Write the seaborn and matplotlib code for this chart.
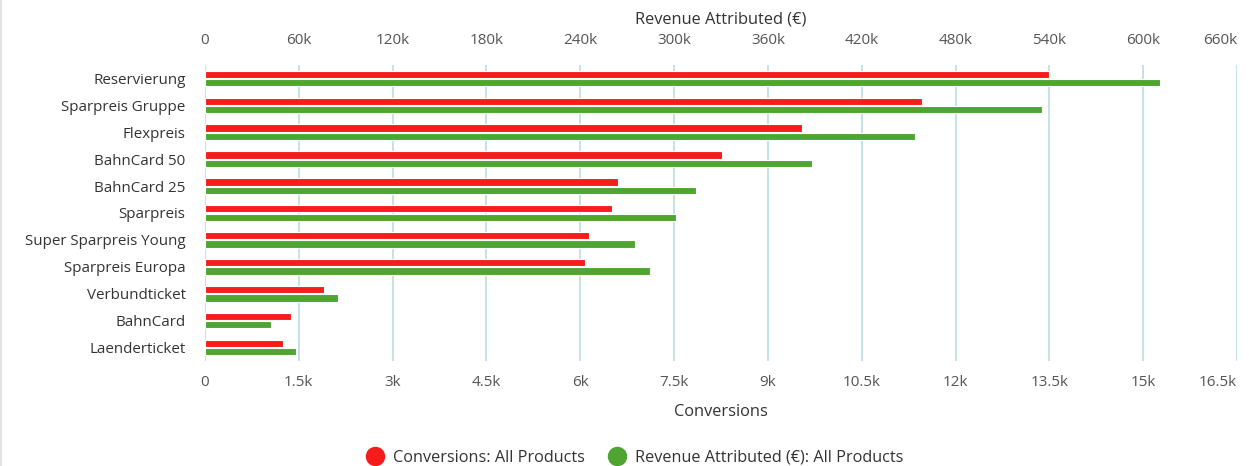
import matplotlib
matplotlib.use("Agg")
import matplotlib.pyplot as plt
import seaborn as sns
import pandas as pd
from matplotlib.lines import Line2D
from matplotlib.ticker import FixedLocator

# ---- data ----
categories = ["Reservierung", "Sparpreis Gruppe", "Flexpreis", "BahnCard 50", "BahnCard 25",
              "Sparpreis", "Super Sparpreis Young", "Sparpreis Europa", "Verbundticket",
              "BahnCard", "Laenderticket"]
conversions = [13490, 11460, 9550, 8260, 6610, 6510, 6140, 6070, 1910, 1370, 1250]
revenue = [610600, 535200, 453900, 388300, 313800, 301500, 275300, 284800, 85300, 42200, 58000]
series_names = ["Conversions: All Products", "Revenue Attributed (€): All Products"]
conv_ticks = [0, 1500, 3000, 4500, 6000, 7500, 9000, 10500, 12000, 13500, 15000, 16500]
conv_labels = ["0", "1.5k", "3k", "4.5k", "6k", "7.5k", "9k", "10.5k", "12k", "13.5k", "15k", "16.5k"]
rev_ticks = [0, 60000, 120000, 180000, 240000, 300000, 360000, 420000, 480000, 540000, 600000, 660000]
rev_labels = ["0", "60k", "120k", "180k", "240k", "300k", "360k", "420k", "480k", "540k", "600k", "660k"]

RED = "#f71c1c"
GREEN = "#4ea531"
GRID = "#b9dde4"
TXT = "#333333"
TICK = "#555555"

sns.set_theme(style="white")
plt.rcParams["font.family"] = ["Open Sans", "DejaVu Sans"]

fig = plt.figure(figsize=(12.49, 4.66), dpi=100)
ax = fig.add_axes([205 / 1249, 1 - 361 / 466, (1237 - 205) / 1249, (361 - 65) / 466])
ax2 = ax.twiny()

df_conv = pd.DataFrame({"category": categories, "value": conversions, "series": series_names[0]})
df_rev = pd.DataFrame({"category": categories, "value": revenue, "series": series_names[1]})

common = dict(y="category", x="value", hue="series", hue_order=series_names,
              palette=[RED, GREEN], saturation=1, order=categories, orient="h", width=0.62, gap=0.12,
              dodge=True, legend=False, edgecolor="white", linewidth=0.8, errorbar=None)
sns.barplot(data=df_conv, ax=ax, **common)
sns.barplot(data=df_rev, ax=ax2, **common)

ax.set_xlim(0, 16500)
ax2.set_xlim(0, 660000)
ax.set_ylim(len(categories) - 0.5, -0.5)

ax.xaxis.set_major_locator(FixedLocator(conv_ticks))
ax.set_xticklabels(conv_labels)
ax2.xaxis.set_major_locator(FixedLocator(rev_ticks))
ax2.set_xticklabels(rev_labels)
ax.get_xticklabels()[-1].set_horizontalalignment("right")
ax2.get_xticklabels()[-1].set_horizontalalignment("right")

ax.grid(axis="x", color=GRID, linewidth=1.2)
ax.grid(axis="y", visible=False)
ax2.grid(False)
ax.set_axisbelow(True)

for a in (ax, ax2):
    for s in a.spines.values():
        s.set_visible(False)

ax.tick_params(axis="x", length=0, pad=10, labelsize=11, labelcolor=TICK)
ax2.tick_params(axis="x", length=0, pad=12, labelsize=11, labelcolor=TICK)
ax.tick_params(axis="y", length=0, pad=14, labelsize=10.9, labelcolor=TXT)
ax2.tick_params(axis="y", length=0)

ax.set_ylabel("")
ax2.set_ylabel("")
ax.set_xlabel("Conversions", fontsize=11.8, color=TXT, labelpad=10)
ax2.set_xlabel("Revenue Attributed (€)", fontsize=11.8, color=TXT, labelpad=7)

handles = [Line2D([], [], marker="o", linestyle="", markersize=13, markerfacecolor=c, markeredgecolor=c)
           for c in (RED, GREEN)]
fig.legend(handles, series_names, loc="center", bbox_to_anchor=(0.5055, 1 - 458 / 466), ncol=2,
           frameon=False, fontsize=11.7, handletextpad=0.1, columnspacing=1.0, labelcolor=TXT)

fig.add_artist(Line2D([0.0008, 0.0008], [0, 1], transform=fig.transFigure, color="#e3e3e3", linewidth=1.5))

fig.savefig("out.png", dpi=100, facecolor="white")
